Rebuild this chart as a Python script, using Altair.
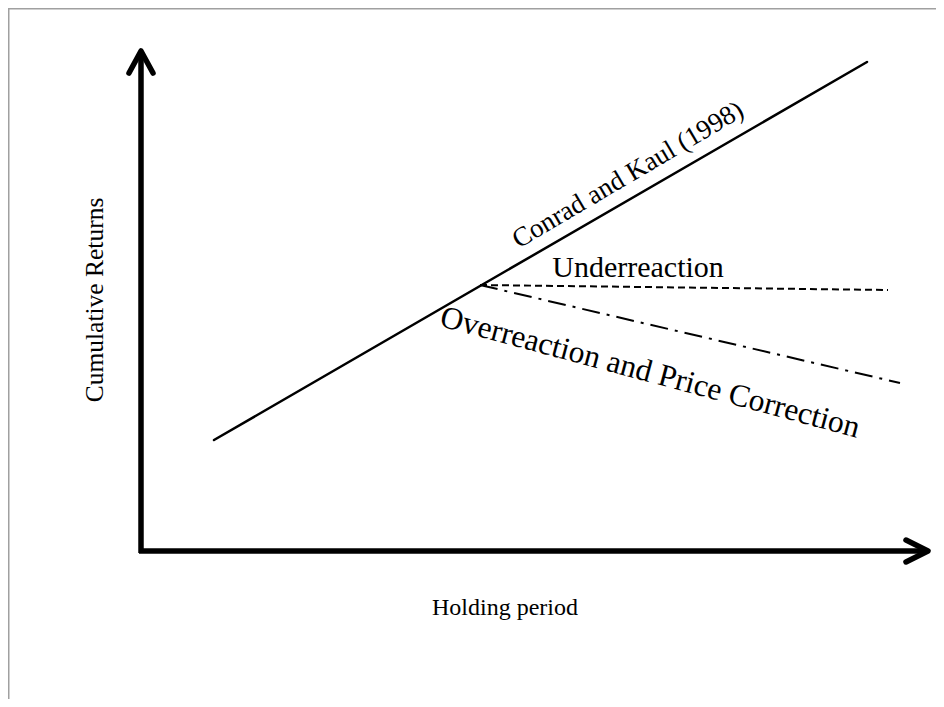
import altair as alt
import pandas as pd

# Conceptual coordinates: origin at the axes corner.
# x = holding period, y = cumulative returns (arbitrary units)
conrad_x = [73, 726]
conrad_y = [111, 489]

under_x = [339, 747]
under_y = [266, 261]

over_x = [339, 759]
over_y = [266, 168]

# axis arrows
yaxis_x = [0, 0]
yaxis_y = [-2, 499]
xaxis_x = [-2, 786]
xaxis_y = [0, 0]
uphead_x = [-12, 0, 12]
uphead_y = [478, 500, 478]
righthead_x = [765, 787, 765]
righthead_y = [11, 0, -11]

# frame (top and left border)
frame_x = [795, -132.5, -132.5]
frame_y = [542.5, 542.5, -148]

labels = ["Conrad and  Kaul (1998)", "Underreaction",
          "Overreaction and Price Correction", "Holding period", "Cumulative Returns"]
label_x = [487, 497, 509, 364, -46]
label_y = [376, 283, 178, -57, 251]
label_angle = [329.5, 0, 15, 0, 270]
label_size = [27, 30, 31.5, 24, 25.5]

X_DOM = [-133, 795]
Y_DOM = [-148, 543]
xs = alt.Scale(domain=X_DOM, nice=False, zero=False)
ys = alt.Scale(domain=Y_DOM, nice=False, zero=False)


def line_df(xv, yv):
    return pd.DataFrame({"x": xv, "y": yv, "o": list(range(len(xv)))})


def line_layer(xv, yv, width=2.5, dash=None, color="black", cap="round"):
    kw = dict(stroke=color, strokeWidth=width, strokeCap=cap, strokeJoin="round")
    if dash:
        kw["strokeDash"] = dash
    return alt.Chart(line_df(xv, yv)).mark_line(**kw).encode(
        x=alt.X("x:Q", scale=xs, axis=None),
        y=alt.Y("y:Q", scale=ys, axis=None),
        order="o:Q",
    )


layers = [
    line_layer(frame_x, frame_y, width=2, color="#a0a0a0", cap="butt"),
    line_layer(yaxis_x, yaxis_y, width=5.5, cap="butt"),
    line_layer(xaxis_x, xaxis_y, width=5.5, cap="butt"),
    line_layer(uphead_x, uphead_y, width=5.5),
    line_layer(righthead_x, righthead_y, width=5.5),
    line_layer(conrad_x, conrad_y, width=2.5),
    line_layer(under_x, under_y, width=2, dash=[7, 4], cap="butt"),
    line_layer(over_x, over_y, width=2, dash=[18, 7, 3, 7], cap="butt"),
]

for t, lx, ly, ang, fs in zip(labels, label_x, label_y, label_angle, label_size):
    df = pd.DataFrame({"t": [t], "x": [lx], "y": [ly]})
    layers.append(
        alt.Chart(df).mark_text(
            font="Liberation Serif", fontSize=fs, color="black",
            align="center", baseline="middle", angle=ang,
        ).encode(
            x=alt.X("x:Q", scale=xs, axis=None),
            y=alt.Y("y:Q", scale=ys, axis=None),
            text="t:N",
        )
    )

chart = alt.layer(*layers).properties(
    width=928, height=691, padding=0, autosize=alt.AutoSizeParams(type="none")
).configure_view(stroke=None).configure(background="white")

chart.save("out.html", embed_options={"renderer": "svg", "actions": False})
